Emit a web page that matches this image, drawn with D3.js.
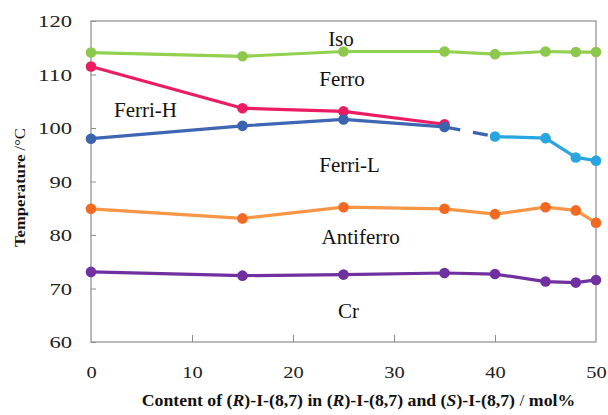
<!DOCTYPE html>
<html><head><meta charset="utf-8">
<script src="https://cdn.jsdelivr.net/npm/d3@7"></script>
<style>body{margin:0;background:#fff}svg{display:block}text{font-family:"Liberation Serif","Times New Roman",serif}</style>
</head><body><svg id="c" width="608" height="415"></svg>
<script>
const isoX = [0, 15, 25, 35, 40, 45, 48, 50];
const isoY = [114.1, 113.4, 114.3, 114.3, 113.8, 114.3, 114.2, 114.2];
const ferriHX = [0, 15, 25, 35];
const ferriHY = [111.5, 103.7, 103.1, 100.7];
const ferriLX = [0, 15, 25, 35];
const ferriLY = [98.0, 100.4, 101.6, 100.2];
const dashX = [35, 40];
const dashY = [100.2, 98.4];
const ferriL2X = [40, 45, 48, 50];
const ferriL2Y = [98.4, 98.1, 94.5, 93.9];
const antiX = [0, 15, 25, 35, 40, 45, 48, 50];
const antiY = [84.9, 83.1, 85.2, 84.9, 83.9, 85.2, 84.6, 82.3];
const crX = [0, 15, 25, 35, 40, 45, 48, 50];
const crY = [73.1, 72.4, 72.6, 72.9, 72.7, 71.3, 71.1, 71.6];
const xTicks = [0, 10, 20, 30, 40, 50];
const yTicks = [60, 70, 80, 90, 100, 110, 120];
const regionLabels = [
  {t: "Iso", x: 24.75, y: 115.3},
  {t: "Ferro", x: 24.85, y: 107.85},
  {t: "Ferri-H", x: 5.4, y: 102.05},
  {t: "Ferri-L", x: 25.6, y: 91.85},
  {t: "Antiferro", x: 26.7, y: 78.3},
  {t: "Cr", x: 25.5, y: 64.5}
];

const svg = d3.select("#c");
const L = 91, R = 596, T = 21, B = 342;
const x = d3.scaleLinear().domain([0, 50]).range([L, R]);
const y = d3.scaleLinear().domain([60, 120]).range([B, T]);

// frame
svg.append("rect").attr("x", L).attr("y", T).attr("width", R - L).attr("height", B - T)
  .attr("fill", "none").attr("stroke", "#8c8c8c").attr("stroke-width", 1.2);

const yAxis = d3.axisLeft(y).tickValues(yTicks).tickSizeInner(-5).tickSizeOuter(0).tickPadding(19);
const gy = svg.append("g").attr("transform", `translate(${L},0)`).call(yAxis);
gy.select(".domain").remove();
gy.selectAll("line").attr("stroke", "#8c8c8c");
gy.selectAll("text").attr("font-size", 17).attr("fill", "#222").attr("font-family", "Liberation Serif")
  .attr("dy", "0.35em")
  .attr("textLength", d => String(d).length * 11.3).attr("lengthAdjust", "spacingAndGlyphs");

const xAxis = d3.axisBottom(x).tickValues(xTicks).tickSizeInner(-7).tickSizeOuter(0).tickPadding(24);
const gx = svg.append("g").attr("transform", `translate(0,${B})`).call(xAxis);
gx.select(".domain").remove();
gx.selectAll("line").attr("stroke", "#8c8c8c");
gx.selectAll(".tick").filter(d => d === 0 || d === 50).select("line").remove();
gx.selectAll("text").attr("font-size", 17).attr("fill", "#222").attr("font-family", "Liberation Serif")
  .attr("textLength", d => String(d).length * 10.2).attr("lengthAdjust", "spacingAndGlyphs");

function series(xs, ys, lineColor, dotColor, dashed, dots) {
  const data = xs.map((v, i) => [v, ys[i]]);
  const line = d3.line().x(d => x(d[0])).y(d => y(d[1]));
  const p = svg.append("path").datum(data).attr("d", line).attr("fill", "none")
    .attr("stroke", lineColor).attr("stroke-width", 3.2).attr("stroke-linejoin", "round");
  if (dashed) p.attr("stroke-dasharray", "0,3,13,13,15,20");
  if (dots) svg.selectAll(null).data(data).enter().append("circle")
    .attr("cx", d => x(d[0])).attr("cy", d => y(d[1])).attr("r", 5.3).attr("fill", dotColor);
}

series(isoX, isoY, "#92d050", "#8cc84b", false, true);
series(antiX, antiY, "#f79646", "#f26a21", false, true);
series(crX, crY, "#7030a0", "#7030a0", false, true);
series(ferriHX, ferriHY, "#ec1c63", "#ec1c63", false, true);
series(dashX, dashY, "#3a63b0", "#3a63b0", true, false);
series(ferriL2X, ferriL2Y, "#29a6df", "#29a6df", false, true);
series(ferriLX, ferriLY, "#3e66b2", "#3a63b0", false, true);

svg.selectAll(null).data(regionLabels).enter().append("text")
  .attr("x", d => x(d.x)).attr("y", d => y(d.y)).attr("text-anchor", "middle")
  .attr("font-size", 21).attr("fill", "#111").text(d => d.t);

// y title
const yt = svg.append("text").attr("transform", "translate(25,187.5) rotate(-90) scale(1.11,1)")
  .attr("text-anchor", "middle").attr("font-size", 15).attr("fill", "#111");
yt.append("tspan").attr("font-weight", "bold").text("Temperature ");
yt.append("tspan").text("/°C");

// x title
const xt = svg.append("text").attr("transform", "translate(358.5,406) scale(1.11,1)").attr("text-anchor", "middle")
  .attr("font-size", 16).attr("font-weight", "bold").attr("fill", "#111");
xt.append("tspan").text("Content of (");
xt.append("tspan").attr("font-style", "italic").text("R");
xt.append("tspan").text(")-I-(8,7) in (");
xt.append("tspan").attr("font-style", "italic").text("R");
xt.append("tspan").text(")-I-(8,7) and (");
xt.append("tspan").attr("font-style", "italic").text("S");
xt.append("tspan").text(")-I-(8,7)  ");
xt.append("tspan").attr("font-weight", "normal").text("/ ");
xt.append("tspan").text("mol%");
</script></body></html>
